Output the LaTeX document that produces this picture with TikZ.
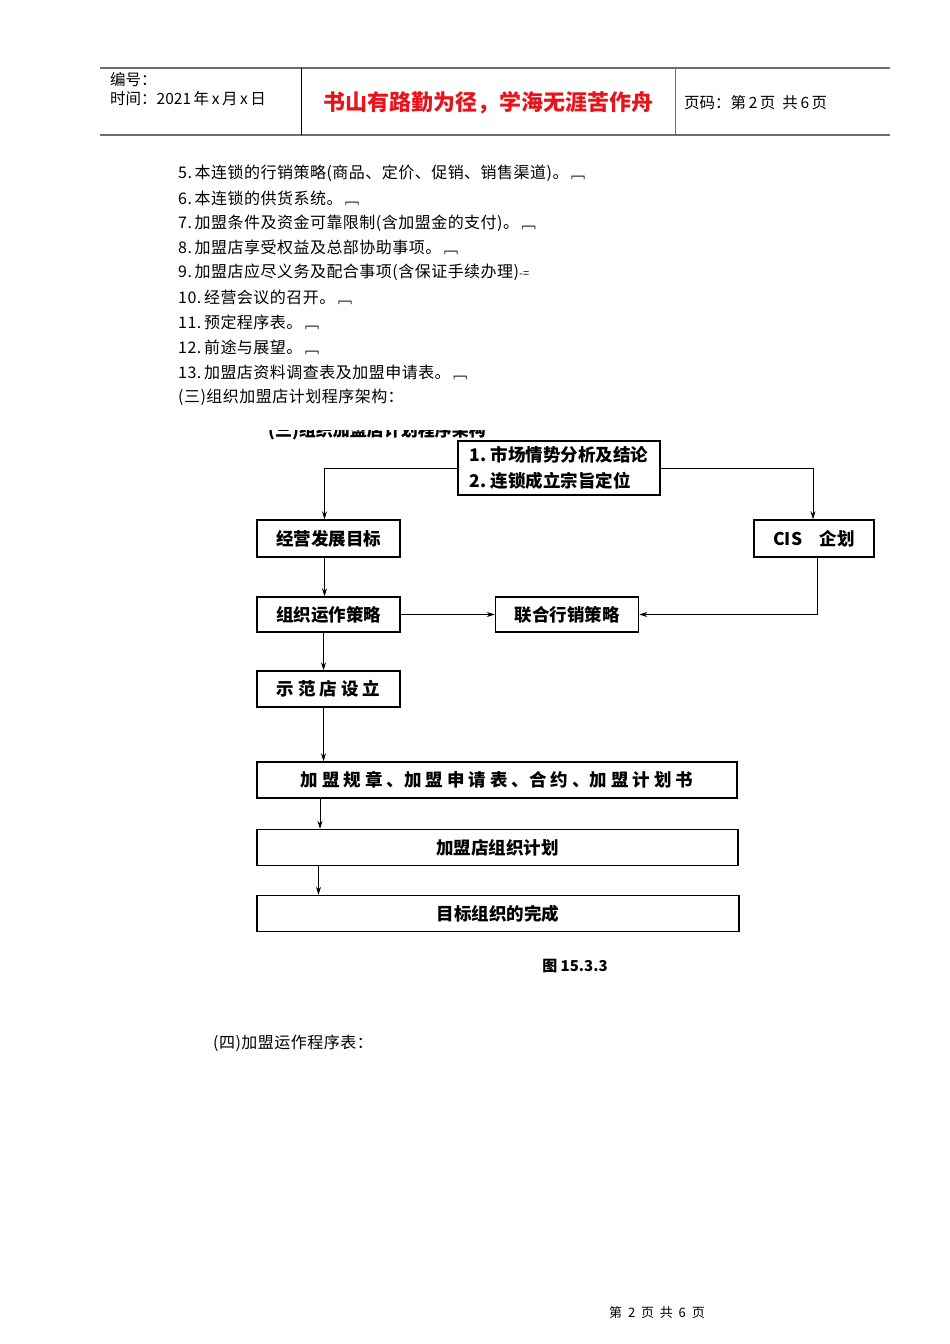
\documentclass[tikz,border=0pt]{standalone}
\usepackage{fontspec}
\setmainfont{Noto Sans CJK SC}
\usetikzlibrary{arrows.meta, positioning}
\definecolor{rule}{HTML}{6E6E6E}
\definecolor{motto}{HTML}{E8141B}
\newcommand\tailmark{\,{\fontsize{14}{14}\selectfont ﹇}}

\begin{document}
\begin{tikzpicture}[
  x=1pt, y=-1pt,
  stage/.style={
    draw, line width=1.5pt, minimum height=36pt, inner sep=0pt,
    font=\bfseries\fontsize{17.5}{18}\selectfont,
  },
  item/.style={anchor=west, inner sep=0pt,
    font=\fontsize{16}{17}\selectfont\addfontfeature{LetterSpace=3}},
  head/.style={anchor=west, inner sep=0pt, font=\fontsize{15.5}{16}\selectfont},
  arrow/.style={-{Stealth[length=8pt,width=5pt]}, line width=0.7pt},
]
  \useasboundingbox[fill=white] (0,0) rectangle (950,1344);

  % header
  \draw[rule, line width=1.3pt] (100,68) -- (890,68);
  \draw[rule, line width=1.3pt] (100,135) -- (890,135);
  \draw (301,68) -- (301,135);
  \draw[rule] (675,68) -- (675,135);
  \node[head] (serial) at (110,80) {编号：};
  \node[head] (date) at (110,99) {时间：2021\,年\,x\,月\,x\,日};
  \node[font=\bfseries\fontsize{22}{24}\selectfont, text=motto] (motto) at (488,103) {书山有路勤为径，学海无涯苦作舟};
  \node[head] (pageno) at (684,103) {页码：第\,2\,页\ \ 共\,6\,页};

  % list
  \foreach \txt [count=\i] in {
      {5.\,本连锁的行销策略(商品、定价、促销、销售渠道)。\tailmark},
      {6.\,本连锁的供货系统。\tailmark},
      {7.\,加盟条件及资金可靠限制(含加盟金的支付)。\tailmark},
      {8.\,加盟店享受权益及总部协助事项。\tailmark},
      {9.\,加盟店应尽义务及配合事项(含保证手续办理){\fontsize{11}{11}\selectfont -=}},
      {10.\,经营会议的召开。\tailmark},
      {11.\,预定程序表。\tailmark},
      {12.\,前途与展望。\tailmark},
      {13.\,加盟店资料调查表及加盟申请表。\tailmark},
      {(三)组织加盟店计划程序架构：}}
    \node[item] (line\i) at (178,{173+(\i-1)*24.9}) {\txt};

  % cut caption of the scanned figure
  \begin{scope}
    \clip (250,430) rectangle (500,445);
    \node[font=\bfseries\fontsize{17}{18}\selectfont] (cut) at (377,431) {(三)组织加盟店计划程序架构};
  \end{scope}

  % chart
  \node[stage, minimum width=202pt, minimum height=54pt, align=left,
        font=\bfseries\fontsize{17.5}{26}\selectfont] (survey) at (559,468)
        {1.\ 市场情势分析及结论\\2.\ 连锁成立宗旨定位};
  \node[stage, minimum width=143pt, minimum height=37pt] (goal) at (328.5,538.5) {经营发展目标};
  \node[stage, minimum width=120pt, minimum height=37pt] (cis) at (814,538.5) {CIS\quad 企划};
  \node[stage, minimum width=143pt, minimum height=35pt] (org) at (328.5,614.5) {组织运作策略};
  \node[stage, minimum width=143pt, minimum height=35pt, right=94pt of org] (joint) {联合行销策略};
  \node[stage, minimum width=143pt] (model) at (328.5,689) {示\ 范\ 店\ 设\ 立};
  \node[stage, minimum width=480pt] (rules) at (497,780) {加\ 盟\ 规\ 章\ 、加\ 盟\ 申\ 请\ 表\ 、合\ 约\ 、加\ 盟\ 计\ 划\ 书};
  \node[stage, minimum width=481pt] (plan) at (497.5,847.5) {加盟店组织计划};
  \node[stage, minimum width=482pt] (done) at (498,913.5) {目标组织的完成};

  \draw[arrow] (survey.west) -| ([xshift=-4pt]goal.north);
  \draw[arrow] (survey.east) -| ([xshift=-1pt]cis.north);
  \draw[arrow] ([xshift=-4pt]goal.south) -- ([xshift=-4pt]org.north);
  \draw[arrow] (org) -- (joint);
  \draw[arrow] ([xshift=3pt]cis.south) |- (joint.east);
  \draw[arrow] ([xshift=-5pt]org.south) -- ([xshift=-5pt]model.north);
  \draw[arrow] ([xshift=-5pt]model.south) -- ([xshift=-5pt]model.south |- rules.north);
  \draw[arrow] ([xshift=-177pt]rules.south) -- ([xshift=-177pt]rules.south |- plan.north);
  \draw[arrow] ([xshift=-179pt]plan.south) -- ([xshift=-179pt]plan.south |- done.north);

  \node[font=\bfseries\fontsize{15}{16}\selectfont] (figno) at (575,966) {图 15.3.3};

  \node[item] (next) at (213,1043) {(四)加盟运作程序表：};
  \node[font=\fontsize{13}{14}\selectfont] (footer) at (657,1313) {第\ \ 2\ \ 页\ \ 共\ \ 6\ \ 页};
\end{tikzpicture}
\end{document}
